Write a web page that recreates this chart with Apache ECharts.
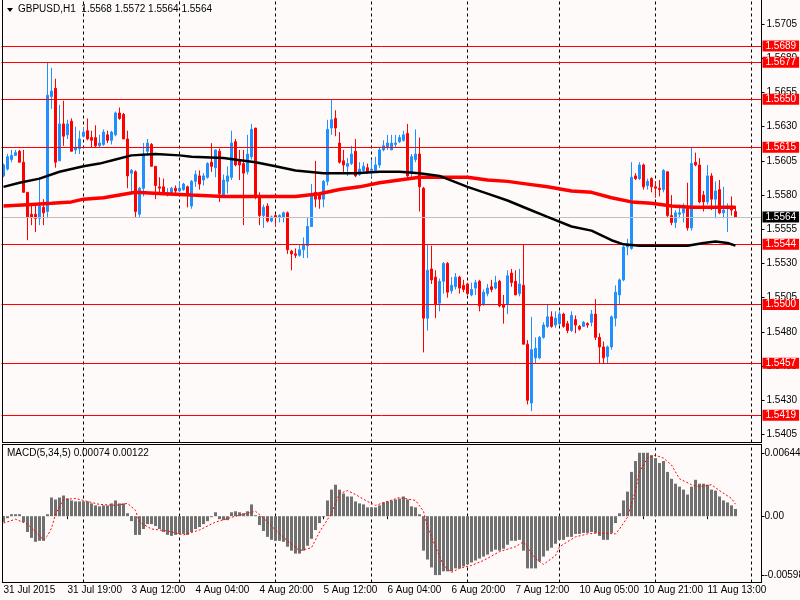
<!DOCTYPE html>
<html><head><meta charset="utf-8">
<script src="https://cdn.jsdelivr.net/npm/echarts@6/dist/echarts.min.js"></script>
<style>html,body{margin:0;padding:0;background:#fffafa}#c{width:800px;height:600px}</style>
</head><body><div id="c"></div>
<script>
// ---- data ----
const opens = [1.5594,1.5599,1.5606,1.5609,1.5612,1.5604,1.5582,1.5566,1.5566,1.5563,1.5571,1.5568,1.5652,1.5658,1.5605,1.5632,1.5624,1.5634,1.5613,1.5614,
1.5623,1.5627,1.5622,1.5622,1.5616,1.5617,1.5624,1.5620,1.5624,1.5640,1.5639,1.5621,1.5596,1.5597,1.5566,1.5585,1.5612,1.5617,1.5601,1.5586,
1.5586,1.5580,1.5581,1.5585,1.5583,1.5584,1.5586,1.5572,1.5590,1.5594,1.5591,1.5593,1.5604,1.5600,1.5612,1.5580,1.5590,1.5593,1.5619,1.5605,
1.5603,1.5597,1.5608,1.5629,1.5579,1.5565,1.5572,1.5561,1.5565,1.5564,1.5564,1.5567,1.5539,1.5537,1.5536,1.5540,1.5543,1.5557,1.5582,1.5581,
1.5577,1.5590,1.5629,1.5636,1.5618,1.5605,1.5601,1.5603,1.5612,1.5595,1.5598,1.5600,1.5598,1.5598,1.5602,1.5613,1.5615,1.5613,1.5617,1.5619,
1.5620,1.5625,1.5596,1.5606,1.5610,1.5585,1.5490,1.5526,1.5520,1.5501,1.5517,1.5530,1.5510,1.5513,1.5520,1.5514,1.5515,1.5507,1.5512,1.5517,
1.5500,1.5508,1.5513,1.5512,1.5517,1.5500,1.5500,1.5523,1.5517,1.5508,1.5514,1.5471,1.5428,1.5461,1.5461,1.5476,1.5484,1.5491,1.5485,1.5486,
1.5493,1.5486,1.5481,1.5489,1.5484,1.5484,1.5486,1.5487,1.5493,1.5476,1.5469,1.5462,1.5469,1.5490,1.5507,1.5518,1.5542,1.5541,1.5594,1.5592,
1.5602,1.5587,1.5592,1.5586,1.5585,1.5584,1.5597,1.5565,1.5560,1.5566,1.5567,1.5571,1.5556,1.5604,1.5602,1.5580,1.5575,1.5594,1.5577,1.5584,
1.5567,1.5570,1.5572,1.5568];
const highs = [1.5603,1.5610,1.5613,1.5613,1.5613,1.5613,1.5582,1.5572,1.5572,1.5593,1.5577,1.5677,1.5673,1.5665,1.5646,1.5649,1.5635,1.5636,1.5630,1.5627,
1.5629,1.5636,1.5627,1.5631,1.5624,1.5628,1.5627,1.5627,1.5641,1.5644,1.5640,1.5627,1.5599,1.5598,1.5586,1.5618,1.5621,1.5618,1.5601,1.5593,
1.5592,1.5585,1.5586,1.5587,1.5590,1.5589,1.5587,1.5591,1.5598,1.5598,1.5596,1.5604,1.5618,1.5613,1.5614,1.5595,1.5601,1.5627,1.5621,1.5613,
1.5613,1.5624,1.5632,1.5629,1.5582,1.5573,1.5574,1.5565,1.5566,1.5566,1.5568,1.5568,1.5540,1.5541,1.5544,1.5549,1.5564,1.5588,1.5605,1.5582,
1.5591,1.5635,1.5650,1.5642,1.5626,1.5613,1.5607,1.5616,1.5621,1.5604,1.5604,1.5603,1.5606,1.5608,1.5615,1.5620,1.5624,1.5624,1.5624,1.5624,
1.5627,1.5632,1.5610,1.5628,1.5622,1.5586,1.5544,1.5543,1.5525,1.5519,1.5531,1.5531,1.5520,1.5523,1.5521,1.5518,1.5516,1.5516,1.5518,1.5518,
1.5511,1.5515,1.5518,1.5521,1.5518,1.5507,1.5525,1.5526,1.5525,1.5526,1.5544,1.5474,1.5491,1.5476,1.5477,1.5487,1.5500,1.5495,1.5495,1.5495,
1.5494,1.5488,1.5495,1.5492,1.5485,1.5488,1.5487,1.5496,1.5504,1.5479,1.5473,1.5470,1.5492,1.5514,1.5519,1.5543,1.5548,1.5604,1.5596,1.5604,
1.5603,1.5592,1.5593,1.5590,1.5591,1.5599,1.5597,1.5580,1.5569,1.5573,1.5574,1.5589,1.5615,1.5611,1.5607,1.5583,1.5602,1.5596,1.5590,1.5591,
1.5586,1.5574,1.5579,1.5572];
const lows = [1.5593,1.5598,1.5604,1.5609,1.5604,1.5582,1.5547,1.5558,1.5553,1.5558,1.5558,1.5563,1.5643,1.5600,1.5605,1.5616,1.5621,1.5612,1.5610,1.5610,
1.5622,1.5620,1.5615,1.5615,1.5615,1.5616,1.5618,1.5617,1.5623,1.5635,1.5621,1.5585,1.5582,1.5564,1.5564,1.5579,1.5609,1.5601,1.5577,1.5582,
1.5580,1.5579,1.5580,1.5580,1.5582,1.5583,1.5571,1.5570,1.5586,1.5584,1.5587,1.5592,1.5597,1.5593,1.5575,1.5578,1.5581,1.5591,1.5601,1.5591,
1.5558,1.5595,1.5606,1.5577,1.5558,1.5556,1.5560,1.5560,1.5557,1.5560,1.5560,1.5537,1.5525,1.5534,1.5535,1.5534,1.5534,1.5557,1.5571,1.5570,
1.5571,1.5587,1.5624,1.5623,1.5603,1.5596,1.5594,1.5602,1.5593,1.5594,1.5596,1.5596,1.5593,1.5597,1.5600,1.5612,1.5613,1.5613,1.5615,1.5618,
1.5619,1.5593,1.5593,1.5604,1.5568,1.5465,1.5481,1.5515,1.5490,1.5495,1.5508,1.5505,1.5508,1.5511,1.5508,1.5509,1.5507,1.5506,1.5507,1.5495,
1.5499,1.5506,1.5509,1.5511,1.5498,1.5486,1.5493,1.5513,1.5507,1.5506,1.5471,1.5427,1.5422,1.5457,1.5460,1.5475,1.5483,1.5483,1.5483,1.5485,
1.5483,1.5479,1.5480,1.5479,1.5481,1.5484,1.5483,1.5484,1.5474,1.5457,1.5457,1.5457,1.5467,1.5484,1.5500,1.5517,1.5536,1.5540,1.5591,1.5591,
1.5584,1.5584,1.5582,1.5578,1.5579,1.5582,1.5564,1.5558,1.5556,1.5563,1.5560,1.5554,1.5554,1.5601,1.5574,1.5568,1.5573,1.5569,1.5563,1.5566,
1.5563,1.5553,1.5565,1.5564];
const closes = [1.5602,1.5608,1.5609,1.5611,1.5604,1.5582,1.5564,1.5564,1.5563,1.5572,1.5567,1.5653,1.5656,1.5604,1.5632,1.5623,1.5632,1.5612,1.5615,1.5621,
1.5626,1.5621,1.5620,1.5616,1.5618,1.5626,1.5620,1.5626,1.5640,1.5636,1.5621,1.5594,1.5598,1.5568,1.5585,1.5610,1.5618,1.5601,1.5587,1.5585,
1.5581,1.5582,1.5585,1.5583,1.5585,1.5588,1.5580,1.5590,1.5595,1.5588,1.5594,1.5603,1.5601,1.5613,1.5581,1.5591,1.5594,1.5618,1.5602,1.5602,
1.5596,1.5610,1.5628,1.5579,1.5565,1.5571,1.5561,1.5564,1.5564,1.5565,1.5567,1.5540,1.5537,1.5536,1.5540,1.5544,1.5557,1.5581,1.5577,1.5577,
1.5590,1.5628,1.5635,1.5629,1.5604,1.5602,1.5603,1.5610,1.5594,1.5599,1.5601,1.5597,1.5599,1.5602,1.5613,1.5616,1.5618,1.5618,1.5618,1.5622,
1.5624,1.5594,1.5608,1.5610,1.5586,1.5490,1.5525,1.5518,1.5500,1.5517,1.5530,1.5509,1.5514,1.5520,1.5512,1.5511,1.5508,1.5511,1.5516,1.5499,
1.5509,1.5512,1.5511,1.5516,1.5499,1.5498,1.5521,1.5516,1.5507,1.5515,1.5471,1.5430,1.5467,1.5468,1.5476,1.5485,1.5491,1.5484,1.5490,1.5493,
1.5484,1.5481,1.5492,1.5485,1.5482,1.5487,1.5485,1.5493,1.5476,1.5469,1.5461,1.5469,1.5491,1.5509,1.5518,1.5542,1.5544,1.5593,1.5592,1.5602,
1.5586,1.5590,1.5586,1.5585,1.5584,1.5598,1.5565,1.5560,1.5567,1.5567,1.5570,1.5556,1.5603,1.5602,1.5575,1.5575,1.5594,1.5577,1.5583,1.5567,
1.5569,1.5572,1.5569,1.5564];

const maRed = [[0,1.5572],[6,1.5573],[12,1.5574],[17,1.5575],[20,1.5577],[25,1.5578],[29,1.5580],[33,1.5582],[40,1.5581],[47,1.5580],
[55,1.5579],[63,1.5579],[73,1.5579],[79,1.5581],[84,1.5584],[89,1.5586],[94,1.5589],[99,1.5591],[104,1.5593],[109,1.5593],[116,1.5593],
[121,1.5591],[126,1.5590],[131,1.5588],[136,1.5586],[142,1.5583],[147,1.5582],[152,1.5578],[157,1.5575],[162,1.5574],[167,1.5572],
[172,1.5571],[177,1.5571],[183,1.5571]];
const maBlack = [[0,1.5586],[4,1.5589],[9,1.5592],[14,1.5597],[20,1.5601],[24,1.5603],[28,1.5606],[32,1.5609],[38,1.5610],[44,1.5609],
[47,1.5608],[55,1.5607],[63,1.5604],[68,1.5601],[73,1.5598],[80,1.5596],[88,1.5596],[94,1.5597],[99,1.5597],[104,1.5596],[109,1.5594],
[116,1.5586],[121,1.5581],[126,1.5576],[131,1.5570],[136,1.5564],[142,1.5557],[147,1.5554],[152,1.5547],[155,1.5544],[159,1.5543],
[164,1.5543],[171,1.5543],[175,1.5545],[178,1.5546],[181,1.5545],[183,1.5543]];

const macdHist = [-0.0006,-0.0002,0.0002,0.0002,0.0002,-0.0006,-0.0016,-0.0022,-0.0026,-0.0025,-0.0025,0.0002,0.0019,0.0017,0.0019,0.0021,0.0018,0.0016,0.0015,0.0015,
0.0015,0.0015,0.0013,0.0011,0.0010,0.0011,0.0011,0.0013,0.0016,0.0013,0.0013,0.0003,-0.0005,-0.0019,-0.0019,-0.0013,-0.0008,-0.0008,-0.0010,-0.0013,
-0.0016,-0.0019,-0.0020,-0.0019,-0.0018,-0.0018,-0.0019,-0.0016,-0.0013,-0.0011,-0.0008,-0.0005,-0.0001,0.0004,-0.0003,-0.0004,-0.0004,0.0004,0.0005,0.0004,
0.0003,0.0005,0.0012,0.0001,-0.0009,-0.0015,-0.0021,-0.0024,-0.0025,-0.0025,-0.0026,-0.0031,-0.0035,-0.0038,-0.0038,-0.0035,-0.0030,-0.0023,-0.0014,-0.0007,
-0.0001,0.0016,0.0027,0.0032,0.0027,0.0023,0.0020,0.0020,0.0015,0.0013,0.0012,0.0009,0.0009,0.0009,0.0011,0.0014,0.0015,0.0016,0.0017,0.0018,
0.0020,0.0017,0.0010,0.0009,0.0002,-0.0035,-0.0044,-0.0052,-0.00598,-0.00598,-0.0056,-0.0056,-0.0056,-0.0053,-0.0053,-0.0051,-0.0049,-0.0047,-0.0045,-0.0043,
-0.0041,-0.0039,-0.0036,-0.0034,-0.0035,-0.0033,-0.0029,-0.0025,-0.0025,-0.0024,-0.0035,-0.0053,-0.0053,-0.0053,-0.0046,-0.0041,-0.0035,-0.0032,-0.0028,-0.0024,
-0.0024,-0.0021,-0.0021,-0.0018,-0.0018,-0.0017,-0.0017,-0.0016,-0.0017,-0.0020,-0.0024,-0.0024,-0.0017,-0.0007,0.0003,0.0016,0.0025,0.0045,0.0056,0.00644,
0.00644,0.00644,0.0062,0.0059,0.0054,0.0056,0.0045,0.0038,0.0033,0.0030,0.0027,0.0022,0.0030,0.0037,0.0033,0.0033,0.0032,0.0027,0.0026,0.0020,
0.0016,0.0014,0.0011,0.00074];
const macdSignal = [[0,-0.0007],[3,-0.0003],[6,-0.0008],[8,-0.0016],[10,-0.0024],[11,-0.0020],[12,-0.0012],[13,0.0002],[15,0.0017],[18,0.0018],
[21,0.0015],[24,0.0012],[28,0.0011],[31,0.0013],[33,0.0006],[34,-0.0006],[37,-0.0013],[41,-0.0015],[45,-0.0019],[49,-0.0014],[53,-0.0006],
[58,0.0000],[63,0.0005],[65,-0.0002],[68,-0.0014],[71,-0.0025],[74,-0.0035],[77,-0.0032],[79,-0.0016],[82,0.0003],[84,0.0023],[86,0.0026],
[88,0.0022],[91,0.0015],[93,0.0011],[99,0.0019],[103,0.0016],[105,0.0005],[106,-0.0011],[108,-0.0031],[110,-0.0050],[112,-0.0057],
[114,-0.0053],[117,-0.0050],[120,-0.0045],[124,-0.0036],[128,-0.0031],[130,-0.0026],[131,-0.0032],[133,-0.0043],[135,-0.0049],
[138,-0.0040],[139,-0.0031],[143,-0.0021],[146,-0.0018],[149,-0.0017],[153,-0.0018],[154,-0.0013],[156,-0.0001],[158,0.0026],
[159,0.0045],[161,0.0059],[163,0.0062],[165,0.0059],[167,0.0052],[169,0.0038],[172,0.0032],[174,0.0030],[177,0.0032],[179,0.0026],
[182,0.0018],[183,0.00122]];

const levels = [1.5689,1.5677,1.5650,1.5615,1.5544,1.5500,1.5457,1.5419];
const lastPrice = 1.5564;
const priceTicks = [1.5705,1.5680,1.5655,1.5630,1.5605,1.5580,1.5555,1.5530,1.5505,1.5480,1.5455,1.5430,1.5405];
const macdTicks = [0.00644,0,-0.00598];
const macdTickLabels = ['0.00644','0.00','-0.00598'];
const dateLabels = ['31 Jul 2015','31 Jul 19:00','3 Aug 12:00','4 Aug 04:00','4 Aug 20:00','5 Aug 12:00','6 Aug 04:00','6 Aug 20:00','7 Aug 12:00','10 Aug 05:00','10 Aug 21:00','11 Aug 13:00'];
const labelStep = 16;
const daySeparators = [20,44,68,92,116,139,163,187];
const headerText = 'GBPUSD,H1  1.5568 1.5572 1.5564 1.5564';
const macdTitle = 'MACD(5,34,5) 0.00074 0.00122';
const totalSlots = 190;

// ---- chart ----
const FONT = 'Liberation Sans';
const cats = Array.from({length: totalSlots}, (_, i) => String(i));
const candles = opens.map((o, i) => [o, closes[i], lows[i], highs[i]]);
const showLabel = (idx) => idx % labelStep === 0 && (idx / labelStep) < dateLabels.length;

const sepLines = () => daySeparators.map(i => ({
  xAxis: String(i),
  lineStyle: {color: '#000', width: 1, type: [3, 3]},
  label: {show: false}
}));
const boxLabel = (txt, bg) => ({show: true, position: 'end', distance: 1, formatter: txt,
  color: '#fff', backgroundColor: bg, padding: [1, 3, 0, 3],
  fontFamily: FONT, fontSize: 10, lineHeight: 10});
const levelLines = levels.map(v => ({
  yAxis: v,
  lineStyle: {color: '#ff0000', width: 1, type: 'solid'},
  label: boxLabel(v.toFixed(4), '#ff0000')
}));
const lastLine = {
  yAxis: lastPrice,
  lineStyle: {color: '#c0c0c0', width: 1, type: 'solid'},
  label: boxLabel(lastPrice.toFixed(4), '#000')
};

const GL = 1.5, GR = 38.5;
const ln = (x1, y1, x2, y2) => ({type: 'line', silent: true, z: 100,
  shape: {x1, y1, x2, y2}, style: {stroke: '#000', lineWidth: 1}});

const chart = echarts.init(document.getElementById('c'), null, {renderer: 'canvas'});
chart.setOption({
  animation: false,
  backgroundColor: '#fffafa',
  textStyle: {fontFamily: FONT},
  grid: [
    {left: GL, right: GR, top: 0, height: 442.5, show: false, containLabel: false, outerBoundsMode: 'none'},
    {left: GL, right: GR, top: 444.5, height: 138, show: false, containLabel: false, outerBoundsMode: 'none'}
  ],
  xAxis: [
    {type: 'category', gridIndex: 0, data: cats, boundaryGap: true,
     axisLine: {show: false}, axisTick: {show: false}, axisLabel: {show: false}, splitLine: {show: false}},
    {type: 'category', gridIndex: 1, data: cats, boundaryGap: true,
     axisLine: {show: false},
     axisTick: {show: true, interval: (idx) => showLabel(idx), alignWithLabel: true, length: 3, lineStyle: {color: '#000'}},
     axisLabel: {show: true, interval: (idx) => showLabel(idx), formatter: (v, idx) => dateLabels[Math.round(Number(v) / labelStep)],
       align: 'left', margin: 3, color: '#000', fontSize: 10, fontFamily: FONT},
     splitLine: {show: false}}
  ],
  yAxis: [
    {type: 'value', gridIndex: 0, position: 'right', min: 1.539915, max: 1.572256, z: 0,
     axisLine: {show: false}, splitLine: {show: false},
     axisTick: {show: true, customValues: priceTicks, length: 3, lineStyle: {color: '#000'}},
     axisLabel: {show: true, customValues: priceTicks, formatter: (v) => v.toFixed(4), margin: 5, color: '#000', fontSize: 10, fontFamily: FONT}},
    {type: 'value', gridIndex: 1, position: 'right', min: -0.006734, max: 0.007283, z: 0,
     axisLine: {show: false}, splitLine: {show: false},
     axisTick: {show: true, customValues: macdTicks, length: 3, lineStyle: {color: '#000'}},
     axisLabel: {show: true, customValues: macdTicks,
       formatter: (v) => { const k = macdTicks.findIndex(t => Math.abs(t - v) < 1e-9); return k >= 0 ? macdTickLabels[k] : ''; },
       margin: 3, color: '#000', fontSize: 10, fontFamily: FONT}}
  ],
  series: [
    {type: 'candlestick', name: 'GBPUSD', xAxisIndex: 0, yAxisIndex: 0, data: candles, barWidth: 2, z: 3,
     itemStyle: {color: '#1e90ff', color0: '#ff0000', borderColor: '#1e90ff', borderColor0: '#ff0000', borderWidth: 1},
     markLine: {silent: true, symbol: ['none', 'none'], animation: false, precision: 6, z: 1,
       data: sepLines()}},
    {type: 'line', name: 'MA red', xAxisIndex: 0, yAxisIndex: 0, data: maRed, showSymbol: false, symbol: 'none', z: 4,
     lineStyle: {color: '#ff0000', width: 3.5}},
    {type: 'line', name: 'MA black', xAxisIndex: 0, yAxisIndex: 0, data: maBlack, showSymbol: false, symbol: 'none', z: 4, zlevel: 1,
     lineStyle: {color: '#000', width: 2.5},
     markLine: {silent: true, symbol: ['none', 'none'], animation: false, precision: 6, z: 20,
       data: [lastLine, ...levelLines]}},
    {type: 'bar', name: 'MACD', xAxisIndex: 1, yAxisIndex: 1, data: macdHist, barWidth: 3, z: 3,
     itemStyle: {color: '#707070'},
     markLine: {silent: true, symbol: ['none', 'none'], animation: false, precision: 6, z: 1, data: sepLines()}},
    {type: 'line', name: 'Signal', xAxisIndex: 1, yAxisIndex: 1, data: macdSignal, showSymbol: false, symbol: 'none', z: 4,
     lineStyle: {color: '#ff0000', width: 1, type: [2, 2]}}
  ],
  graphic: [
    ln(2.5, 0, 2.5, 442.5), ln(761.5, 0, 761.5, 442.5), ln(2, 442.5, 762, 442.5),
    ln(2, 444.5, 762, 444.5), ln(2.5, 444.5, 2.5, 582.5), ln(761.5, 444.5, 761.5, 582.5), ln(2, 582.5, 762, 582.5),
    {type: 'polygon', shape: {points: [[7, 8], [13, 8], [10, 12]]}, style: {fill: '#000'}},
    {type: 'text', left: 18, top: 4, style: {text: headerText, fill: '#000', font: '10px "Liberation Sans"'}},
    {type: 'text', left: 7, top: 448, style: {text: macdTitle, fill: '#000', font: '10px "Liberation Sans"'}}
  ]
});
</script></body></html>
